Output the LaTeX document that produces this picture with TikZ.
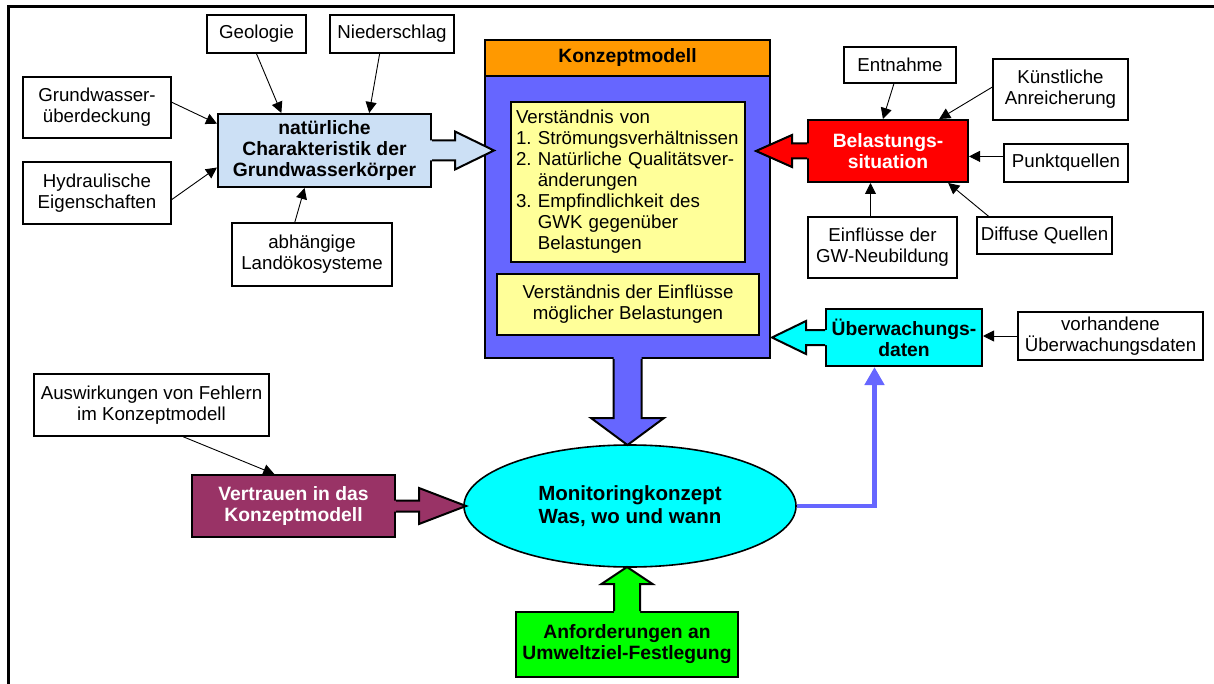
\documentclass[tikz,border=0pt]{standalone}
\usepackage{fontspec}
\setmainfont{Liberation Sans}
\usetikzlibrary{arrows.meta,shapes.geometric}
\definecolor{natblue}{RGB}{204,224,245}
\definecolor{kzorange}{RGB}{255,153,0}
\definecolor{kzblue}{RGB}{102,102,255}
\definecolor{kzyellow}{RGB}{255,255,153}
\definecolor{belred}{RGB}{255,0,0}
\definecolor{uebcyan}{RGB}{0,255,255}
\definecolor{vertpurple}{RGB}{153,51,102}
\definecolor{anfgreen}{RGB}{0,255,0}
\newcommand{\lblfont}{\fontsize{18.7}{21}\selectfont}
\newcommand{\lblbold}{\fontsize{19.3}{21}\selectfont\bfseries}
\newcommand{\lblbig}{\fontsize{20.5}{23}\selectfont\bfseries}
% block arrow: anchor, angle, shaft length, head length, shaft half width, head half width, fill
\newcommand{\blockarr}[7]{%
  \begin{scope}[shift={(#1)}, rotate=#2]
    \fill[#7] (-2,#5) -- (#3,#5) -- (#3,#6) -- (#3+#4,0) -- (#3,-#6) -- (#3,-#5) -- (-2,-#5) -- cycle;
    \draw[line width=2pt, line join=miter] (0,#5) -- (#3,#5) -- (#3,#6) -- (#3+#4,0) -- (#3,-#6) -- (#3,-#5) -- (0,-#5);
  \end{scope}}

\begin{document}
\begin{tikzpicture}[
  x=1pt, y=-1pt,
  dims/.style 2 args={minimum width=#1pt, minimum height=#2pt},
  box/.style={rectangle, draw, line width=1.6pt, fill=white, inner sep=0pt, align=center, font=\lblfont},
  colbox/.style={rectangle, draw, line width=2pt, inner sep=0pt, align=center, font=\lblbold},
  ybox/.style={rectangle, draw, line width=1.2pt, fill=kzyellow, inner sep=5pt, align=center, font=\lblfont},
  conn/.style={-{Triangle[length=11pt,width=11pt]}, line width=0.9pt},
  feed/.style={-{Triangle[length=18pt,width=19pt]}, line width=4.5pt, draw=kzblue}
]
\useasboundingbox (0,0) rectangle (1214,684);

% frame
\draw[line width=3pt] (8,684) -- (8,7) -- (1214,7);

% natural characteristics and their inputs
\node[box, dims={99}{38}] (geo) at (256.5,34) {Geologie};
\node[box, dims={124}{38}] (nied) at (392,34) {Niederschlag};
\node[box, dims={148}{61}] (gwue) at (97,107.5) {Grundwasser-\\überdeckung};
\node[box, dims={148}{62}] (hydr) at (97,193) {Hydraulische\\Eigenschaften};
\node[box, dims={160}{63}] (land) at (312,254.5) {abhängige\\Landökosysteme};
\node[colbox, fill=natblue, dims={213}{73}] (nat) at (324.5,150.5) {natürliche\\Charakteristik der\\Grundwasserkörper};

% conceptual model
\node[colbox, fill=kzblue, dims={285}{318}] (konz) at (627.5,199) {};
\node[colbox, fill=kzorange, dims={285}{36}] (kopf) at (627.5,58) {Konzeptmodell};
\node[ybox, dims={234}{160}, text width=224pt, align=left] (yel1) at (628,182) {Verständnis von\\1.\ Strömungsverhältnissen\\2.\ Natürliche Qualitätsver-\\\phantom{2.\ }änderungen\\3.\ Empfindlichkeit des\\\phantom{3.\ }GWK gegenüber\\\phantom{3.\ }Belastungen};
\node[ybox, dims={262}{61}, inner sep=0pt] (yel2) at (628,304.5) {Verständnis der Einflüsse\\möglicher Belastungen};

% pressures and monitoring data
\node[box, dims={112}{36}] (entn) at (900,65) {Entnahme};
\node[box, dims={135}{61}] (kuen) at (1060.5,89.5) {Künstliche\\Anreicherung};
\node[colbox, fill=belred, text=white, dims={160}{62}] (bel) at (888,151) {Belastungs-\\situation};
\node[box, dims={124}{38}] (punkt) at (1066,163) {Punktquellen};
\node[box, dims={149}{61}] (einfl) at (882.5,247.5) {Einflüsse der\\GW-Neubildung};
\node[box, dims={135}{37}] (diff) at (1044.5,235.5) {Diffuse Quellen};
\node[colbox, fill=uebcyan, dims={156}{57}] (ueb) at (904,337.5) {Überwachungs-\\daten};
\node[box, dims={185}{48}] (vorh) at (1110.5,336) {vorhandene\\Überwachungsdaten};

% monitoring concept
\node[box, dims={235}{62}] (ausw) at (151.5,405) {Auswirkungen von Fehlern\\im Konzeptmodell};
\node[colbox, fill=vertpurple, text=white, dims={203}{62}] (vert) at (293.5,506) {Vertrauen in das\\Konzeptmodell};
\node[ellipse, draw, line width=1.6pt, fill=uebcyan, minimum width=332pt, minimum height=122pt, inner sep=0pt, align=center, font=\lblbig] (mon) at (630,506) {Monitoringkonzept\\Was, wo und wann};
\node[colbox, fill=anfgreen, dims={222}{65}] (anf) at (627,644.5) {Anforderungen an\\Umweltziel-Festlegung};

% thin arrows
\draw[conn] (geo.south) -- (nat.139);
\draw[conn] (nied.238) -- (nat.40);
\draw[conn] (gwue.4) -- (nat.166);
\draw[conn] (hydr.-5) -- (nat.189);
\draw[conn] (land.118) -- (nat.242);
\draw[conn] (entn.252) -- (bel.99);
\draw[conn] (kuen.178) -- (bel.32);
\draw[conn] (punkt.174) -- (punkt.174 -| bel.east);
\draw[conn] (einfl.111) -- (einfl.111 |- bel.south);
\draw[conn] (diff.161) -- (bel.-28);
\draw[conn] (vorh.west) -- (vorh.west -| ueb.east);
\draw[conn] (ausw.-45) -- (vert.121);
\draw[feed] (mon.east) -| (ueb.225);

% block arrows
\blockarr{nat.east}{0}{23}{39}{10}{19}{natblue}
\blockarr{bel.west}{180}{15}{36}{7.5}{16}{belred}
\blockarr{ueb.west}{180}{19}{34}{7.5}{16.5}{uebcyan}
\blockarr{konz.south}{-90}{59}{27}{14}{36.5}{kzblue}
\blockarr{anf.north}{90}{27}{17}{13}{25.5}{anfgreen}
\blockarr{vert.east}{0}{23}{47}{5.5}{18}{vertpurple}

\end{tikzpicture}
\end{document}
